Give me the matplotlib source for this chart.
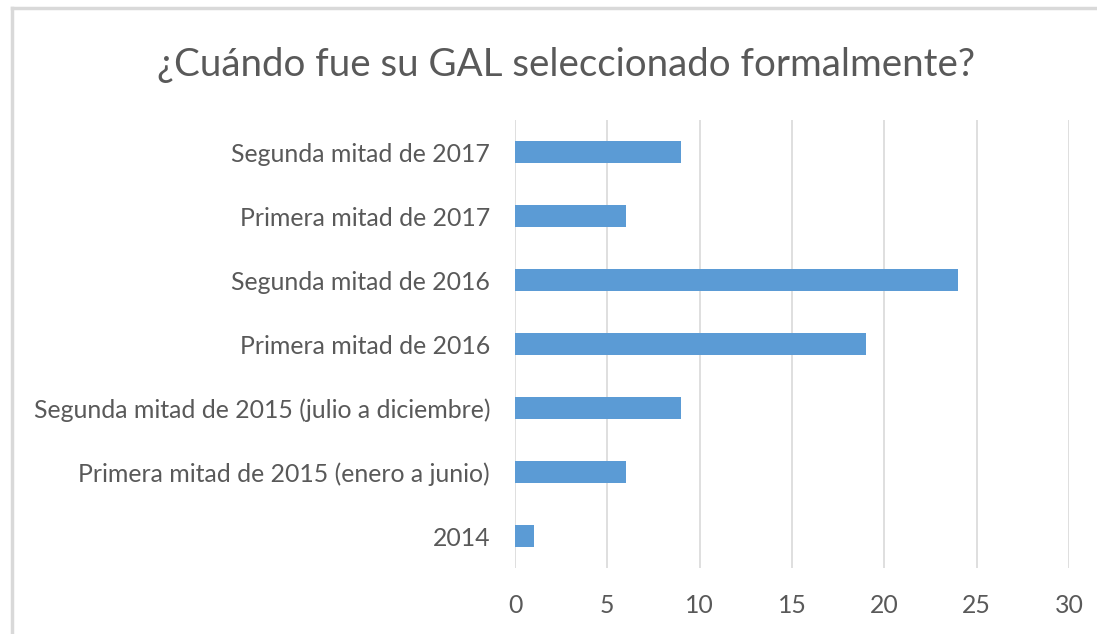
import numpy as np
import matplotlib.pyplot as plt
from matplotlib.lines import Line2D

categories = ['2014',
              'Primera mitad de 2015 (enero a junio)',
              'Segunda mitad de 2015 (julio a diciembre)',
              'Primera mitad de 2016',
              'Segunda mitad de 2016',
              'Primera mitad de 2017',
              'Segunda mitad de 2017']
values = [1, 6, 9, 19, 24, 6, 9]
xticks = [0, 5, 10, 15, 20, 25, 30]

plt.rcParams['font.family'] = ['Lato', 'DejaVu Sans']
grey = '#595959'

fig = plt.figure(figsize=(10.97, 6.34), dpi=100)
ax = fig.add_axes([0.4695, 0.1041, 0.505, 0.7066])

y = np.arange(len(categories))
ax.barh(y, values, height=0.34, color='#5B9BD5', zorder=3)

ax.set_xlim(0, 30)
ax.set_ylim(-0.5, len(categories) - 0.5)
ax.set_xticks(xticks)
ax.set_yticks(y)
ax.set_yticklabels(categories)
ax.tick_params(axis='both', length=0, colors=grey, labelsize=17.9)
ax.tick_params(axis='x', pad=19)
ax.tick_params(axis='y', pad=18)
ax.grid(axis='x', color='#D9D9D9', linewidth=1.2, zorder=0)
for s in ax.spines.values():
    s.set_visible(False)

fig.text(0.516, 0.897, '¿Cuándo fue su GAL seleccionado formalmente?',
         ha='center', va='center', fontsize=27.7, color=grey)

# chart frame (top and left edges visible)
fig.add_artist(Line2D([12/1097, 1], [1 - 8/634, 1 - 8/634], color='#D9D9D9', lw=2.5))
fig.add_artist(Line2D([12/1097, 12/1097], [0, 1 - 8/634], color='#D9D9D9', lw=2.5))

fig.savefig('out.png', dpi=100)
